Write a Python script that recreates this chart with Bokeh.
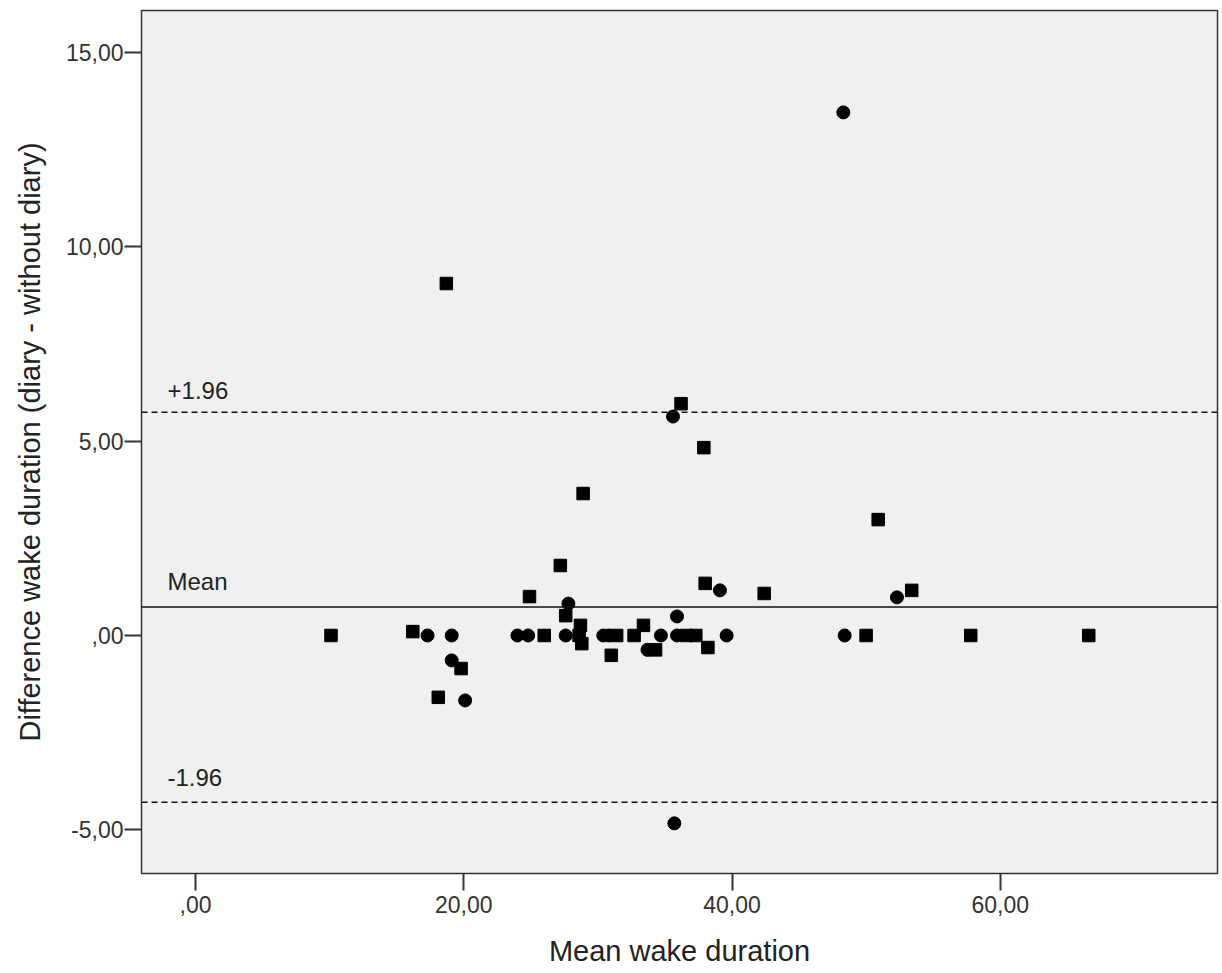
from bokeh.plotting import figure
from bokeh.models import Span, Label, FixedTicker, Range1d
from bokeh.embed import file_html
from bokeh.resources import INLINE

# ---- data ----
circle_x = [48.3, 35.6, 39.1, 52.3, 27.8, 35.9, 17.3, 19.1, 19.1, 20.1,
            24.0, 24.8, 27.6, 30.4, 30.8, 34.7, 35.9, 33.7, 39.6, 48.4, 35.7]
circle_y = [13.45, 5.63, 1.16, 0.98, 0.82, 0.49, 0.0, 0.0, -0.64, -1.67,
            0.0, 0.0, 0.0, 0.0, 0.0, 0.0, 0.0, -0.37, 0.0, 0.0, -4.83]

square_x = [18.7, 36.2, 37.9, 28.9, 50.9, 27.2, 38.0, 42.4, 53.4, 24.9,
            27.6, 28.7, 28.8, 31.0, 33.4, 32.7, 34.3, 36.6, 37.3, 38.2,
            10.1, 16.2, 18.1, 19.8, 26.0, 28.6, 31.4, 50.0, 57.8, 66.6]
square_y = [9.05, 5.96, 4.83, 3.65, 2.98, 1.80, 1.34, 1.08, 1.16, 1.00,
            0.51, 0.26, -0.21, -0.51, 0.26, 0.0, -0.37, 0.0, 0.0, -0.31,
            0.0, 0.10, -1.59, -0.85, 0.0, 0.0, 0.0, 0.0, 0.0, 0.0]

mean_diff = 0.73
upper_loa = 5.74
lower_loa = -4.29

x_ticks = [0, 20, 40, 60]
x_tick_labels = [",00", "20,00", "40,00", "60,00"]
y_ticks = [-5, 0, 5, 10, 15]
y_tick_labels = ["-5,00", ",00", "5,00", "10,00", "15,00"]

x_title = "Mean wake duration"
y_title = "Difference wake duration (diary - without diary)"

FONT = "Liberation Sans"
DARK = "#333333"

p = figure(width=1220, height=970,
           x_range=Range1d(-4.03, 76.2), y_range=Range1d(-6.12, 16.07),
           output_backend="svg", toolbar_location=None,
           min_border_left=141, min_border_right=3,
           min_border_top=10, min_border_bottom=97)

p.background_fill_color = "#f0f0f0"
p.border_fill_color = "white"
p.outline_line_color = DARK
p.outline_line_width = 1.5
p.grid.visible = False

# axes
p.xaxis.ticker = FixedTicker(ticks=x_ticks)
p.yaxis.ticker = FixedTicker(ticks=y_ticks)
p.xaxis.major_label_overrides = dict(zip(x_ticks, x_tick_labels))
p.yaxis.major_label_overrides = dict(zip(y_ticks, y_tick_labels))
for ax in (p.xaxis, p.yaxis):
    ax.axis_line_color = None
    ax.minor_tick_line_color = None
    ax.major_tick_in = 0
    ax.major_tick_out = 17
    ax.major_tick_line_color = DARK
    ax.major_tick_line_width = 2
    ax.major_label_text_font = FONT
    ax.major_label_text_font_size = "23px"
    ax.major_label_text_color = DARK
    ax.axis_label_text_font = FONT
    ax.axis_label_text_font_size = "29px"
    ax.axis_label_text_font_style = "normal"
    ax.axis_label_text_color = "#222222"
p.xaxis.major_label_standoff = 5
p.yaxis.major_label_standoff = 1
p.xaxis.axis_label = x_title
p.yaxis.axis_label = y_title
p.xaxis.axis_label_standoff = 19
p.yaxis.axis_label_standoff = 17

# reference lines
p.add_layout(Span(location=mean_diff, dimension="width",
                  line_color="#111111", line_width=1.5))
p.add_layout(Span(location=upper_loa, dimension="width",
                  line_color="#111111", line_width=1.5, line_dash="6 4"))
p.add_layout(Span(location=lower_loa, dimension="width",
                  line_color="#111111", line_width=1.5, line_dash="6 4"))

for yv, txt, lift in [(upper_loa, "+1.96", 0.56), (mean_diff, "Mean", 0.66),
                      (lower_loa, "-1.96", 0.63)]:
    p.add_layout(Label(x=-2.09, y=yv + lift, text=txt,
                       text_baseline="alphabetic", text_font=FONT,
                       text_font_size="24px", text_color="#222222"))

# markers
p.scatter(circle_x, circle_y, marker="circle", size=13,
          fill_color="black", line_color="black")
p.scatter(square_x, square_y, marker="square", size=12.5,
          fill_color="black", line_color="black")

open("out.html", "w").write(file_html(p, INLINE))
